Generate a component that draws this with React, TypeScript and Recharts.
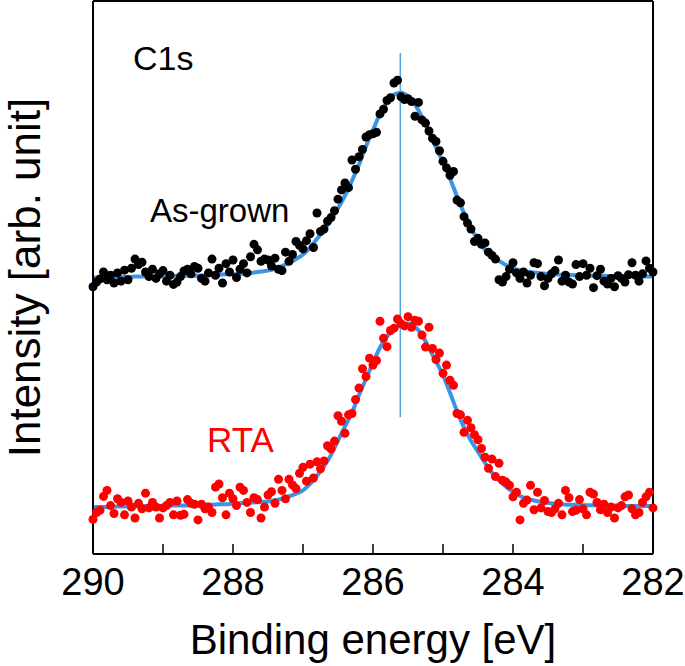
import { ComposedChart, Label, Line, ReferenceLine, Scatter, XAxis, YAxis } from "recharts";

const FONT = '"Liberation Sans", Arial, Helvetica, sans-serif';

// binding energy grid of the measured points (eV)
const energy = [
  290, 289.95, 289.9, 289.85, 289.8, 289.75, 289.7, 289.65, 289.6, 289.55,
  289.5, 289.45, 289.4, 289.35, 289.3, 289.25, 289.2, 289.15, 289.1, 289.05,
  289, 288.95, 288.9, 288.85, 288.8, 288.75, 288.7, 288.65, 288.6, 288.55,
  288.5, 288.45, 288.4, 288.35, 288.3, 288.25, 288.2, 288.15, 288.1, 288.05,
  288, 287.95, 287.9, 287.85, 287.8, 287.75, 287.7, 287.65, 287.6, 287.55,
  287.5, 287.45, 287.4, 287.35, 287.3, 287.25, 287.2, 287.15, 287.1, 287.05,
  287, 286.95, 286.9, 286.85, 286.8, 286.75, 286.7, 286.65, 286.6, 286.55,
  286.5, 286.45, 286.4, 286.35, 286.3, 286.25, 286.2, 286.15, 286.1, 286.05,
  286, 285.95, 285.9, 285.85, 285.8, 285.75, 285.7, 285.65, 285.6, 285.55,
  285.5, 285.45, 285.4, 285.35, 285.3, 285.25, 285.2, 285.15, 285.1, 285.05,
  285, 284.95, 284.9, 284.85, 284.8, 284.75, 284.7, 284.65, 284.6, 284.55,
  284.5, 284.45, 284.4, 284.35, 284.3, 284.25, 284.2, 284.15, 284.1, 284.05,
  284, 283.95, 283.9, 283.85, 283.8, 283.75, 283.7, 283.65, 283.6, 283.55,
  283.5, 283.45, 283.4, 283.35, 283.3, 283.25, 283.2, 283.15, 283.1, 283.05,
  283, 282.95, 282.9, 282.85, 282.8, 282.75, 282.7, 282.65, 282.6, 282.55,
  282.5, 282.45, 282.4, 282.35, 282.3, 282.25, 282.2, 282.15, 282.1, 282.05,
  282,
];

// As-grown spectrum (offset upward)
const asGrown = [
  5.8, 5.9, 5.97, 6.12, 5.95, 6.05, 5.88, 6.1, 5.92, 6.16,
  5.95, 6.2, 6.4, 6.28, 6.33, 6.12, 6.02, 6.18, 5.98, 6.08,
  6.15, 5.92, 6.05, 5.85, 5.9, 6.02, 6.14, 6.18, 6.08, 6.24,
  6.2, 5.98, 5.92, 6.1, 6.4, 6.05, 6.2, 5.88, 6.3, 6.12,
  6.38, 6.0, 6.18, 6.3, 6.1, 6.45, 6.72, 6.6, 6.35, 6.4,
  6.38, 6.25, 6.42, 6.18, 6.15, 6.55, 6.35, 6.5, 6.78, 6.7,
  6.62, 6.8, 6.95, 6.65, 7.4, 7.0, 7.05, 7.22, 7.3, 7.45,
  7.7, 7.9, 8.05, 7.95, 8.55, 8.35, 8.62, 8.78, 9.05, 9.1,
  9.12, 9.15, 9.55, 9.65, 9.84, 9.9, 10.22, 10.28, 9.92, 9.86,
  9.88, 9.82, 9.5, 9.8, 9.42, 9.35, 9.18, 9.02, 8.95, 8.75,
  8.52, 8.38, 8.22, 8.3, 7.68, 7.62, 7.32, 7.18, 7.05, 6.78,
  6.85, 6.72, 6.75, 6.55, 6.48, 6.4, 5.95, 5.9, 6.02, 6.18,
  6.32, 6.1, 5.98, 6.12, 5.88, 6.05, 6.32, 6.3, 6.02, 5.82,
  5.98, 6.08, 6.15, 6.38, 5.92, 6.05, 5.9, 5.86, 6.28, 6.02,
  6.3, 6.05, 6.2, 5.78, 6.04, 6.18, 5.92, 5.86, 5.98, 5.8,
  6.04, 5.98, 5.9, 6.06, 6.32, 6.05, 5.92, 6.08, 6.36, 6.2,
  6.12,
];

// RTA spectrum
const rta = [
  0.75, 0.9, 0.95, 1.25, 1.38, 1.05, 0.88, 1.2, 1.12, 0.85,
  1.15, 1.02, 0.78, 1.1, 0.98, 1.32, 1.0, 1.12, 1.02, 0.78,
  1.0, 1.05, 1.12, 0.85, 1.15, 0.84, 0.86, 1.18, 1.1, 1.08,
  0.74, 1.08, 0.98, 1.02, 0.9, 1.45, 1.52, 1.22, 0.85, 1.32,
  1.2, 1.05, 1.45, 1.38, 1.12, 0.9, 1.22, 1.18, 0.78, 1.02,
  1.28, 1.35, 1.1, 1.62, 1.38, 1.2, 1.62, 1.5, 1.42, 1.75,
  1.88, 1.58, 1.95, 1.65, 2.0, 1.85, 2.02, 2.35, 2.28, 2.45,
  3.0, 2.88, 2.62, 3.02, 3.05, 3.35, 3.6, 4.02, 3.85, 4.25,
  4.1, 4.2, 5.05, 4.68, 4.5, 4.85, 4.9, 5.1, 5.0, 4.95,
  5.15, 4.92, 5.07, 5.05, 4.75, 4.49, 4.92, 4.46, 4.22, 4.36,
  3.92, 4.1, 3.77, 3.66, 3.05, 3.02, 2.64, 2.9, 2.74, 2.59,
  2.48, 2.29, 2.1, 1.86, 2.06, 1.68, 1.97, 1.6, 1.56, 1.49,
  1.24, 1.34, 0.74, 1.1, 1.17, 1.49, 0.96, 1.34, 1.0, 1.16,
  0.92, 0.9, 0.98, 1.1, 0.85, 1.38, 1.22, 0.92, 0.95, 1.18,
  0.98, 0.85, 1.34, 1.3, 1.12, 0.96, 1.08, 0.9, 1.02, 0.78,
  1.0, 1.05, 1.24, 1.28, 0.98, 0.85, 0.9, 1.12, 1.24, 1.34,
  1.0,
];

// fitted curves, 0.1 eV grid
const fitEnergy = [
  290, 289.9, 289.8, 289.7, 289.6, 289.5, 289.4, 289.3, 289.2, 289.1,
  289, 288.9, 288.8, 288.7, 288.6, 288.5, 288.4, 288.3, 288.2, 288.1,
  288, 287.9, 287.8, 287.7, 287.6, 287.5, 287.4, 287.3, 287.2, 287.1,
  287, 286.9, 286.8, 286.7, 286.6, 286.5, 286.4, 286.3, 286.2, 286.1,
  286, 285.9, 285.8, 285.7, 285.6, 285.5, 285.4, 285.3, 285.2, 285.1,
  285, 284.9, 284.8, 284.7, 284.6, 284.5, 284.4, 284.3, 284.2, 284.1,
  284, 283.9, 283.8, 283.7, 283.6, 283.5, 283.4, 283.3, 283.2, 283.1,
  283, 282.9, 282.8, 282.7, 282.6, 282.5, 282.4, 282.3, 282.2, 282.1,
  282,
];

const asGrownFit = [
  6.0, 6.0, 6.01, 6.01, 6.01, 6.01, 6.02, 6.02, 6.02, 6.02,
  6.02, 6.03, 6.03, 6.04, 6.04, 6.04, 6.05, 6.05, 6.06, 6.07,
  6.07, 6.08, 6.09, 6.11, 6.13, 6.15, 6.19, 6.25, 6.32, 6.4,
  6.5, 6.65, 6.84, 7.03, 7.25, 7.5, 7.78, 8.1, 8.45, 8.85,
  9.2, 9.55, 9.8, 9.97, 10.01, 9.93, 9.75, 9.48, 9.15, 8.82,
  8.5, 8.15, 7.76, 7.4, 7.07, 6.82, 6.6, 6.46, 6.36, 6.27,
  6.2, 6.16, 6.13, 6.11, 6.09, 6.08, 6.07, 6.06, 6.06, 6.05,
  6.05, 6.04, 6.04, 6.04, 6.03, 6.03, 6.03, 6.03, 6.02, 6.02,
  6.02,
];

const rtaFit = [
  1.02, 1.02, 1.02, 1.03, 1.03, 1.03, 1.03, 1.04, 1.04, 1.04,
  1.04, 1.05, 1.05, 1.05, 1.06, 1.06, 1.07, 1.07, 1.08, 1.08,
  1.09, 1.1, 1.11, 1.12, 1.13, 1.14, 1.17, 1.2, 1.25, 1.31,
  1.38, 1.52, 1.7, 1.9, 2.15, 2.46, 2.77, 3.07, 3.45, 3.8,
  4.15, 4.48, 4.72, 4.88, 4.97, 5.0, 4.93, 4.75, 4.47, 4.18,
  3.88, 3.5, 3.1, 2.75, 2.46, 2.22, 1.98, 1.76, 1.6, 1.46,
  1.35, 1.26, 1.2, 1.16, 1.13, 1.11, 1.09, 1.08, 1.07, 1.07,
  1.06, 1.06, 1.05, 1.05, 1.05, 1.05, 1.04, 1.04, 1.04, 1.04,
  1.04,
];

const xTicks = [290, 289, 288, 287, 286, 285, 284, 283, 282];
const yTicks = [1, 2, 3, 4, 5, 6, 7, 8, 9, 10, 11];

// peak position marker
const peakEnergy = 285.61;
const peakLineFrom = 2.97;
const peakLineTo = 10.87;

const asGrownPoints = energy.map((e, i) => ({ e, v: asGrown[i] }));
const rtaPoints = energy.map((e, i) => ({ e, v: rta[i] }));
const asGrownFitLine = fitEnergy.map((e, i) => ({ e, v: asGrownFit[i] }));
const rtaFitLine = fitEnergy.map((e, i) => ({ e, v: rtaFit[i] }));

const FIT_COLOR = "#3a95e8";
const AXIS_LINE = { stroke: "#000", strokeWidth: 2 };
const TICK_LINE = { stroke: "#000", strokeWidth: 1.5 };

// inward tick + outside label (even energies only)
function BottomTick(props: any) {
  const { x, y, payload } = props;
  const v = payload.value;
  return (
    <g>
      <line x1={x} x2={x} y1={y} y2={y - 10} stroke="#000" strokeWidth={1.5} />
      {v % 2 === 0 && (
        <text x={x} y={y + 41} textAnchor="middle" fontSize={38} fontFamily={FONT} fill="#000">
          {v}
        </text>
      )}
    </g>
  );
}

const dot = (color: string) => (p: any) => <circle cx={p.cx} cy={p.cy} r={4.5} fill={color} />;

export default function App() {
  return (
    <div style={{ position: "absolute", left: 0, top: 0, background: "#fff" }}>
      <ComposedChart width={685} height={666} margin={{ top: 1, right: 32, bottom: 0, left: 93 }}>
        <XAxis
          dataKey="e"
          type="number"
          domain={[282, 290]}
          reversed
          ticks={xTicks}
          height={112}
          tickSize={0}
          tickMargin={0}
          tickLine={false}
          tick={<BottomTick />}
          axisLine={AXIS_LINE}
          interval={0}
        >
          <Label
            value="Binding energy [eV]"
            position="bottom"
            offset={-42}
            fill="#000"
            style={{ fontSize: 42, fontFamily: FONT, fill: "#000" }}
          />
        </XAxis>
        <XAxis
          xAxisId="top"
          orientation="top"
          type="number"
          domain={[282, 290]}
          reversed
          ticks={xTicks}
          height={20}
          mirror
          tickSize={12}
          tick={false}
          tickLine={TICK_LINE}
          axisLine={AXIS_LINE}
          interval={0}
        />
        <YAxis
          type="number"
          domain={[0, 12]}
          ticks={yTicks}
          width={20}
          mirror
          tickSize={10}
          tick={false}
          tickLine={TICK_LINE}
          axisLine={AXIS_LINE}
          interval={0}
        >
          <Label
            value="Intensity [arb. unit]"
            angle={-90}
            position="insideLeft"
            offset={-69}
            fill="#000"
            style={{ textAnchor: "middle", fontSize: 44, fontFamily: FONT, fill: "#000" }}
          />
        </YAxis>
        <YAxis
          yAxisId="right"
          orientation="right"
          type="number"
          domain={[0, 12]}
          ticks={yTicks}
          width={20}
          mirror
          tickSize={10}
          tick={false}
          tickLine={TICK_LINE}
          axisLine={AXIS_LINE}
          interval={0}
        />
        <ReferenceLine
          segment={[
            { x: peakEnergy, y: peakLineFrom },
            { x: peakEnergy, y: peakLineTo },
          ]}
          stroke="#4fa6e0"
          strokeWidth={1.5}
        />
        <Line data={asGrownFitLine} dataKey="v" type="monotone" stroke={FIT_COLOR} strokeWidth={4} dot={false} isAnimationActive={false} />
        <Line data={rtaFitLine} dataKey="v" type="monotone" stroke={FIT_COLOR} strokeWidth={4} dot={false} isAnimationActive={false} />
        <Scatter data={asGrownPoints} dataKey="v" shape={dot("#000")} isAnimationActive={false} />
        <Scatter data={rtaPoints} dataKey="v" shape={dot("#ff0000")} isAnimationActive={false} />
        <text x={133} y={70} fontSize={34} fontFamily={FONT} fill="#000">C1s</text>
        <text x={150} y={222} fontSize={33} fontFamily={FONT} fill="#000">As-grown</text>
        <text x={207} y={452} fontSize={35} fontFamily={FONT} fill="#ff0000">RTA</text>
      </ComposedChart>
    </div>
  );
}
